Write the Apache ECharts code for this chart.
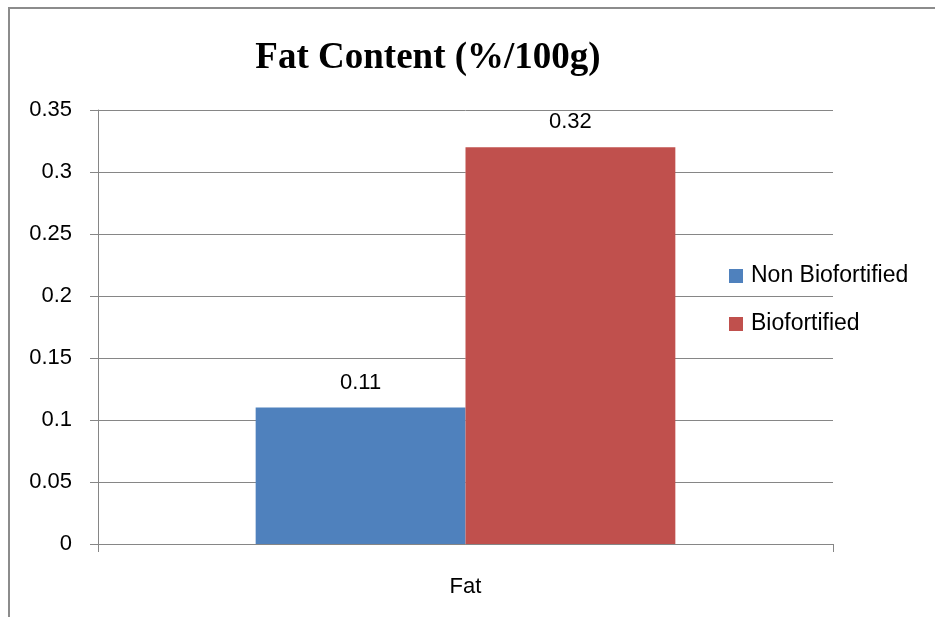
<!DOCTYPE html>
<html>
<head>
<meta charset="utf-8">
<title>Fat Content (%/100g)</title>
<script src="https://cdn.jsdelivr.net/npm/echarts@6/dist/echarts.min.js"></script>
<style>
  html, body { margin: 0; padding: 0; background: #ffffff; }
  #chart { width: 935px; height: 617px; }
</style>
</head>
<body>
<div id="chart"></div>
<script>
// Chart data
const categories = ['Fat'];
const seriesNames = ['Non Biofortified', 'Biofortified'];
const nonBiofortified = [0.11];
const biofortified = [0.32];
const yMin = 0;
const yMax = 0.35;
const yStep = 0.05;

const axisGray = '#868686';
const labelFont = '"Liberation Sans", Arial, sans-serif';

const chart = echarts.init(document.getElementById('chart'), null, { renderer: 'canvas' });

chart.setOption({
  backgroundColor: '#ffffff',
  animation: false,
  title: {
    text: 'Fat Content (%/100g)',
    left: 423,
    top: 35,
    textAlign: 'center',
    textStyle: {
      fontFamily: '"Liberation Serif", "Times New Roman", serif',
      fontWeight: 'bold',
      fontSize: 37,
      color: '#000000'
    }
  },
  graphic: [{
    type: 'rect',
    shape: { x: 9, y: 8, width: 1000, height: 700 },
    style: { fill: 'none', stroke: '#8c8c8c', lineWidth: 2 },
    silent: true
  }],
  legend: {
    orient: 'vertical',
    left: 724,
    top: 259,
    itemWidth: 14,
    itemHeight: 14,
    itemGap: 24,
    icon: 'rect',
    data: seriesNames,
    textStyle: {
      fontFamily: labelFont,
      fontSize: 23,
      lineHeight: 24,
      color: '#000000',
      padding: [0, 0, 0, 3]
    }
  },
  grid: {
    left: 98,
    right: 102,
    top: 110,
    bottom: 73,
    containLabel: false
  },
  xAxis: {
    type: 'category',
    data: categories,
    axisLine: { show: true, lineStyle: { color: axisGray, width: 1 } },
    axisTick: { show: true, length: 8, alignWithLabel: false, interval: 0, lineStyle: { color: axisGray } },
    axisLabel: {
      margin: 32,
      fontFamily: labelFont,
      fontSize: 22,
      color: '#000000'
    },
    splitLine: { show: false }
  },
  yAxis: {
    type: 'value',
    min: yMin,
    max: yMax,
    interval: yStep,
    axisLine: { show: true, lineStyle: { color: axisGray, width: 1 } },
    axisTick: { show: true, length: 8, lineStyle: { color: axisGray } },
    axisLabel: {
      margin: 26,
      fontFamily: labelFont,
      fontSize: 22,
      color: '#000000',
      formatter: function (v) { return String(parseFloat(v.toFixed(2))); }
    },
    splitLine: { show: true, lineStyle: { color: axisGray, width: 1 } }
  },
  series: [
    {
      name: seriesNames[0],
      type: 'bar',
      data: nonBiofortified,
      barGap: '0%',
      barCategoryGap: '42.9%',
      itemStyle: { color: '#4F81BD' },
      label: {
        show: true,
        position: 'top',
        distance: 14,
        fontFamily: labelFont,
        fontSize: 22,
        color: '#000000'
      }
    },
    {
      name: seriesNames[1],
      type: 'bar',
      data: biofortified,
      barGap: '0%',
      barCategoryGap: '42.9%',
      itemStyle: { color: '#C0504D' },
      label: {
        show: true,
        position: 'top',
        distance: 14,
        fontFamily: labelFont,
        fontSize: 22,
        color: '#000000'
      }
    }
  ]
});
</script>
</body>
</html>
